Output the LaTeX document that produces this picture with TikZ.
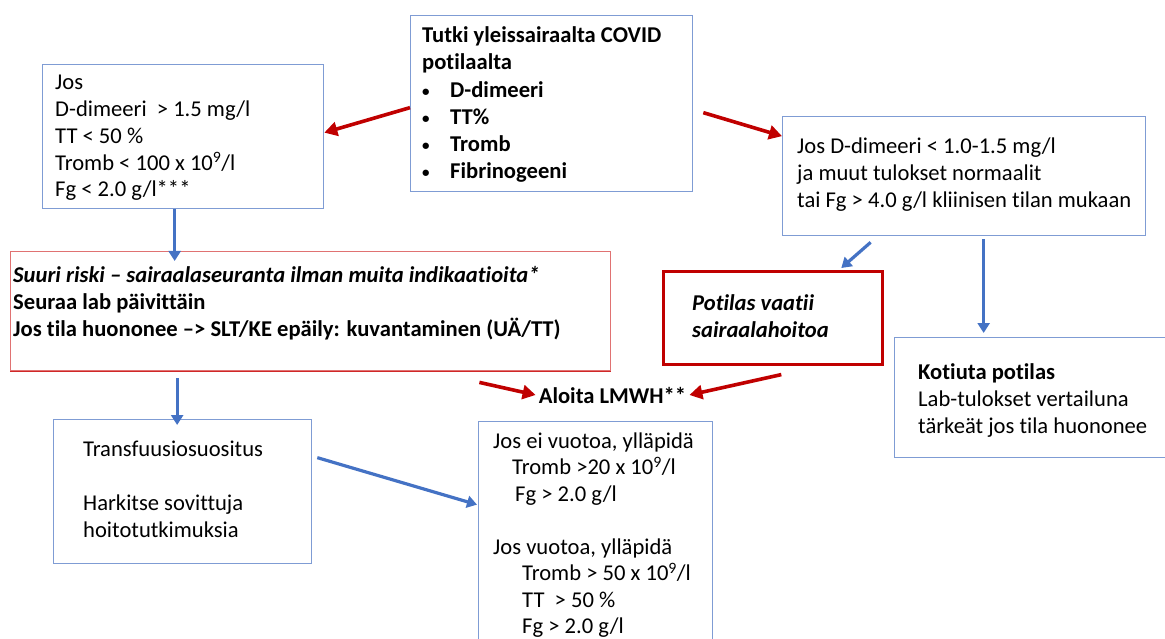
\documentclass[tikz,border=0pt]{standalone}
\usepackage{fontspec}
\setmainfont{Carlito}[Ligatures=NoCommon]
\usetikzlibrary{arrows.meta}
\definecolor{arrred}{HTML}{C00000}
\definecolor{arrblue}{HTML}{4472C4}
\definecolor{boxblue}{HTML}{7F9CD4}
\definecolor{boxred}{HTML}{E07272}
\definecolor{boxredd}{HTML}{D02828}
\tikzset{
  bluebox/.style={draw=boxblue, line width=1.3pt, rectangle, anchor=north west, inner sep=0pt},
  redbox/.style={draw=boxred, line width=1.4pt, rectangle, anchor=north west, inner sep=0pt},
  darkredbox/.style={draw=arrred, line width=2.6pt, rectangle, anchor=north west, inner sep=0pt},
  txt/.style={anchor=north west, inner sep=0pt, align=left, font=\fontsize{22.6}{26.8}\selectfont},
  redarrow/.style={draw=arrred, line width=3.6pt, -{Triangle[length=13pt,width=14pt]}},
  bluearrow/.style={draw=arrblue, line width=3.2pt, -{Triangle[length=10pt,width=12pt]}},
}
\newcommand{\fs}{\rule{0pt}{19pt}}
\newcommand{\bul}{\makebox[28pt][l]{\fontsize{15}{15}\selectfont\raisebox{1pt}{•}}}
\begin{document}
\begin{tikzpicture}[x=1pt,y=-1pt]
\useasboundingbox (0,0) rectangle (1165,639);
% boxes
\node[bluebox, minimum width=281pt, minimum height=144pt] (lbox) at (42,64) {};
\node[bluebox, minimum width=282pt, minimum height=176pt] (top) at (410,15) {};
\node[bluebox, minimum width=363pt, minimum height=119pt] (rbox) at (782,116) {};
\node[redbox, minimum width=600pt, minimum height=119pt] (risk) at (10,251) {};
\draw[boxredd, line width=1.4pt] (risk.south west) -- (risk.south east);
\node[darkredbox, minimum width=219pt, minimum height=93pt] (potilas) at (662,270) {};
\node[bluebox, minimum width=281pt, minimum height=120pt] (kot) at (894,337) {};
\node[bluebox, minimum width=258pt, minimum height=144pt] (transf) at (53,419) {};
\node[bluebox, minimum width=234pt, minimum height=240pt] (bot) at (478,421) {};
% texts
\node[txt] (ltxt) at (55,70.5) {\fs Jos\\D-dimeeri\ \ > 1.5 mg/l\\TT < 50 \%\\Tromb < 100 x 10\textsuperscript{9}/l\\Fg < 2.0 g/l***};
\node[txt, font=\fontsize{22.6}{27.2}\selectfont\bfseries] (ttxt) at (422,23.5) {\fs Tutki yleissairaalta COVID\\potilaalta\\\bul D-dimeeri\\\bul TT\%\\\bul Tromb\\\bul Fibrinogeeni};
\node[txt] (rtxt) at (797,134.5) {\fs Jos D-dimeeri < 1.0-1.5 mg/l\\ja muut tulokset normaalit\\tai Fg > 4.0 g/l kliinisen tilan mukaan};
\node[txt, font=\fontsize{22.6}{27}\selectfont\bfseries] (risktxt) at (13,263.5) {\fs\textit{Suuri riski – sairaalaseuranta ilman muita indikaatioita*}\\Seuraa lab päivittäin\\Jos tila huononee –> SLT/KE epäily: kuvantaminen (UÄ/TT)};
\node[txt, font=\fontsize{22.6}{26.5}\selectfont\bfseries\itshape] (ptxt) at (692,291.5) {\fs Potilas vaatii\\sairaalahoitoa};
\node[txt] (ktxt) at (918,360.5) {\fs\textbf{Kotiuta potilas}\\Lab-tulokset vertailuna\\tärkeät jos tila huononee};
\node[txt] (trtxt) at (83,437.5) {\fs Transfuusiosuositus\\[27pt]Harkitse sovittuja\\hoitotutkimuksia};
\node[txt, font=\fontsize{22.6}{26.5}\selectfont] (btxt) at (493,429) {\fs Jos ei vuotoa, ylläpidä\\\hspace*{19pt}Tromb >20 x 10\textsuperscript{9}/l\\\hspace*{22pt}Fg > 2.0 g/l\\[26.5pt]Jos vuotoa, ylläpidä\\\hspace*{29pt}Tromb > 50 x 10\textsuperscript{9}/l\\\hspace*{29pt}TT\ \ > 50 \%\\\hspace*{29pt}Fg > 2.0 g/l};
\node[anchor=center, inner sep=3pt, font=\fontsize{22.6}{24}\selectfont\bfseries] (aloita) at (612.5,395) {Aloita LMWH**};
% arrows
\draw[redarrow] ([yshift=-4pt]top.west) -- ([yshift=4pt]lbox.east);
\draw[redarrow] ([xshift=10pt,yshift=-9pt]top.east) -- ([yshift=40pt]rbox.west);
\draw[bluearrow] ([xshift=-8.5pt]lbox.south) -- ([xshift=-8.5pt,yshift=-10pt]lbox.south |- risk.north);
\draw[bluearrow] ([xshift=-5.5pt,yshift=-7pt]transf.north |- risk.south) -- ([xshift=-5.5pt,yshift=-6pt]transf.north);
\draw[bluearrow] ([xshift=5pt,yshift=34pt]transf.east) -- ([xshift=-1pt,yshift=37pt]bot.west);
\draw[redarrow] ([xshift=-132pt,yshift=-11pt]risk.south east) -- (aloita.west);
\draw[redarrow] ([xshift=8.5pt,yshift=-9pt]potilas.south) -- (aloita.east);
\draw[bluearrow] ([xshift=-93.5pt,yshift=-6pt]rbox.south) -- ([xshift=68.5pt,yshift=2pt]potilas.north);
\draw[bluearrow] ([xshift=19.5pt,yshift=-3pt]rbox.south) -- ([xshift=19.5pt,yshift=4pt]rbox.south |- kot.north);
\end{tikzpicture}
\end{document}
